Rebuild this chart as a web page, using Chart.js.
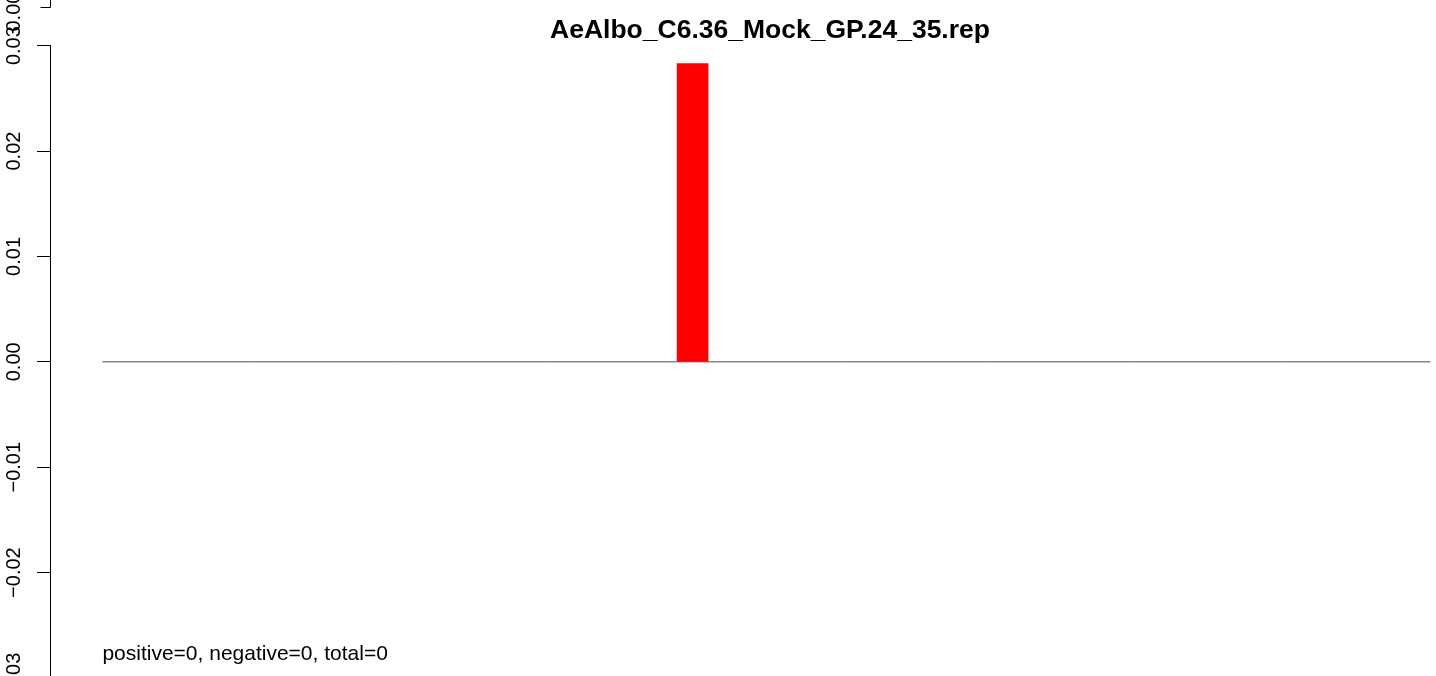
<!DOCTYPE html>
<html>
<head>
<meta charset="utf-8">
<script src="https://cdn.jsdelivr.net/npm/chart.js@4/dist/chart.umd.min.js"></script>
<style>
  html, body { margin: 0; padding: 0; background: #fff; width: 1436px; height: 676px; overflow: hidden; }
  canvas { display: block; }
</style>
</head>
<body>
<canvas id="rep-chart" width="1540" height="678"></canvas>
<script>
// values
const positions = [1, 2, 3, 4, 5, 6, 7, 8, 9, 10];
const repValues = [0, 0, 0, 0, 0.0283, 0, 0, 0, 0, 0];
const yTicks = [-0.03, -0.02, -0.01, 0, 0.01, 0.02, 0.03];
const chartTitle = 'AeAlbo_C6.36_Mock_GP.24_35.rep';
const counts = { positive: 0, negative: 0, total: 0 };

const FONT = '"Liberation Sans", Arial, Helvetica, sans-serif';

const fmtTick = v => (v < -1e-9 ? '\u2212' : '') + Math.abs(v).toFixed(2);

// summary line and the bottom stub of the panel above (the figure is a crop)
const annotate = {
  id: 'annotate',
  afterDraw(chart) {
    const { ctx, scales: { x, y } } = chart;
    ctx.save();
    ctx.fillStyle = '#000';
    ctx.font = '21px ' + FONT;
    ctx.textBaseline = 'alphabetic';
    ctx.textAlign = 'left';
    const txt = `positive=${counts.positive}, negative=${counts.negative}, total=${counts.total}`;
    ctx.fillText(txt, x.getPixelForValue(positions[0]), y.getPixelForValue(-0.0283));

    // previous panel's axis end
    const ax = Math.round(y.right) + 0.5;
    const stubY = Math.round(y.top) - 38.5;
    ctx.strokeStyle = '#000';
    ctx.lineWidth = 1;
    ctx.beginPath();
    ctx.moveTo(ax, 0);
    ctx.lineTo(ax, stubY);
    ctx.lineTo(ax - 10, stubY);
    ctx.stroke();
    ctx.font = '20px ' + FONT;
    ctx.translate(14, stubY + 24);
    ctx.rotate(-Math.PI / 2);
    ctx.textBaseline = 'middle';
    ctx.fillText('0.00', 0, 0);
    ctx.restore();
  }
};

new Chart(document.getElementById('rep-chart'), {
  data: {
    datasets: [
      {
        type: 'line',
        data: positions.map(p => ({ x: p, y: 0 })),
        borderColor: '#4d4d4d',
        borderWidth: 1,
        pointRadius: 0,
        order: 2,
      },
      {
        type: 'bar',
        data: positions.map((p, i) => ({ x: p, y: repValues[i] })),
        backgroundColor: c => (c.raw && c.raw.y !== 0 ? '#ff0000' : 'rgba(0,0,0,0)'),
        borderWidth: 0,
        barThickness: 31,
        order: 1,
      },
    ],
  },
  options: {
    responsive: false,
    animation: false,
    layout: { padding: { left: 0, right: 50, top: 0, bottom: 0 } },
    plugins: {
      legend: { display: false },
      tooltip: { enabled: false },
      title: {
        display: true,
        text: chartTitle,
        fullSize: false,
        color: '#000',
        font: { family: FONT, size: 26.5, weight: 'bold', lineHeight: 1.1 },
        padding: { top: 16.5, bottom: 0 },
      },
    },
    scales: {
      x: {
        type: 'linear',
        display: false,
        offset: false,
        min: 0.645,
        max: 10.404,
      },
      y: {
        min: -0.03,
        max: 0.03,
        afterFit: s => { s.width = 50; s.paddingTop = 0; s.paddingBottom = 0; },
        afterBuildTicks: s => { s.ticks = yTicks.map(v => ({ value: v })); },
        border: { display: true, color: '#000', width: 1 },
        grid: { drawOnChartArea: false, drawTicks: true, tickLength: 13, tickColor: '#000', tickWidth: 1 },
        ticks: {
          autoSkip: false,
          minRotation: 90,
          maxRotation: 90,
          crossAlign: 'center',
          padding: -3,
          color: '#000',
          font: { family: FONT, size: 20 },
          callback: fmtTick,
        },
      },
    },
  },
  plugins: [annotate],
});
</script>
</body>
</html>
